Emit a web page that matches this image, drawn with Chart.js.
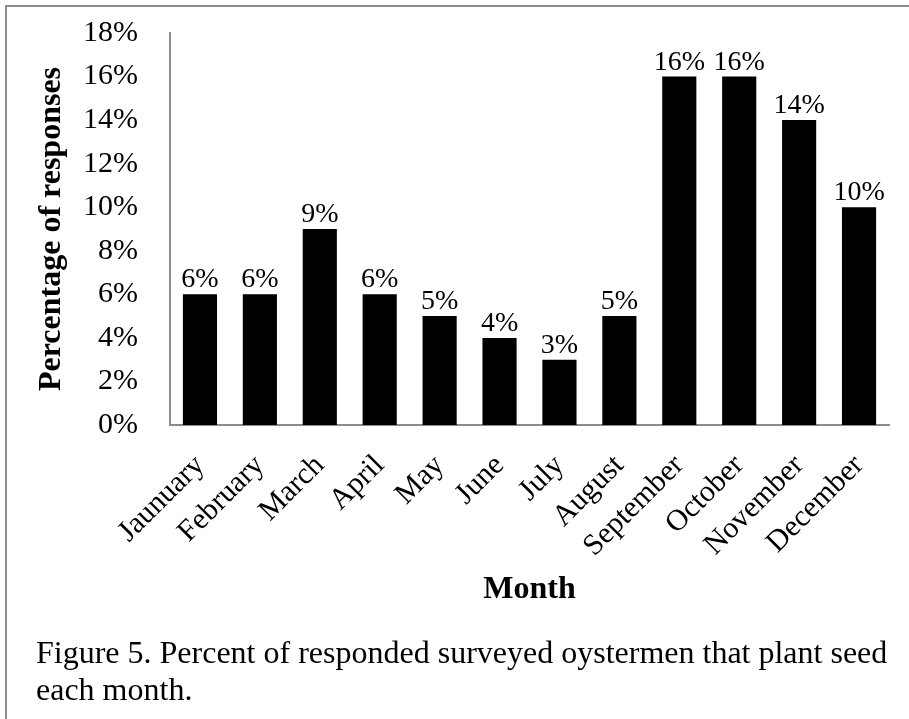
<!DOCTYPE html>
<html>
<head>
<meta charset="utf-8">
<script src="https://cdn.jsdelivr.net/npm/chart.js@4/dist/chart.umd.min.js"></script>
<style>
  html, body { margin: 0; padding: 0; background: #fff; }
  #page { position: relative; width: 909px; height: 719px; overflow: hidden; }
  #frame { position: absolute; left: 5px; top: 5px; right: -10px; bottom: -10px;
           border-left: 2px solid #8c8c8c; border-top: 2px solid #8c8c8c; }
  #chartBox { position: absolute; left: 0; top: 0; width: 909px; height: 620px; }
  #caption { position: absolute; left: 36px; top: 634px; white-space: nowrap;
             font-family: "Liberation Serif", "Times New Roman", serif;
             font-size: 32px; line-height: 36.5px; color: #000; }
</style>
</head>
<body>
<div id="page">
  <div id="chartBox"><canvas id="chart"></canvas></div>
  <div id="frame"></div>
  <div id="caption">Figure 5. Percent of responded surveyed oystermen that plant seed<br>each month.</div>
</div>
<script>
// Survey results: share of oystermen planting seed in each month (%)
const months = ['Jaunuary', 'February', 'March', 'April', 'May', 'June', 'July',
                'August', 'September', 'October', 'November', 'December'];
const percentResponses = [6, 6, 9, 6, 5, 4, 3, 5, 16, 16, 14, 10];
const yTicks = { min: 0, max: 18, step: 2 };

const serif = '"Liberation Serif", "Times New Roman", serif';

// Writes each bar's value above it
const valueLabels = {
  id: 'valueLabels',
  afterDatasetsDraw(chart) {
    const ctx = chart.ctx;
    const meta = chart.getDatasetMeta(0);
    const values = chart.data.datasets[0].data;
    ctx.save();
    ctx.font = '28px ' + serif;
    ctx.fillStyle = '#000';
    ctx.textAlign = 'center';
    ctx.textBaseline = 'alphabetic';
    meta.data.forEach((bar, i) => {
      ctx.fillText(values[i] + '%', bar.x, bar.y - 7);
    });
    ctx.restore();
  }
};

new Chart(document.getElementById('chart'), {
  type: 'bar',
  data: {
    labels: months,
    datasets: [{
      data: percentResponses,
      backgroundColor: '#000',
      borderWidth: 0,
      categoryPercentage: 1.0,
      barPercentage: 0.57
    }]
  },
  options: {
    responsive: true,
    maintainAspectRatio: false,
    animation: false,
    devicePixelRatio: 1,
    layout: { padding: { left: 30, top: 33, right: 20, bottom: 11 } },
    plugins: { legend: { display: false }, tooltip: { enabled: false } },
    scales: {
      x: {
        grid: { display: false, drawTicks: false },
        border: { display: true, color: '#8c8c8c', width: 2 },
        ticks: {
          color: '#000',
          font: { family: serif, size: 30 },
          maxRotation: 45, minRotation: 45,
          autoSkip: false,
          padding: 23
        },
        title: {
          display: true, text: 'Month', color: '#000',
          font: { family: serif, size: 32, weight: 'bold' },
          padding: 0
        },
        afterFit(scale) { scale.height = 184; }
      },
      y: {
        min: yTicks.min, max: yTicks.max,
        grid: { display: false, drawTicks: false },
        border: { display: true, color: '#8c8c8c', width: 2 },
        ticks: {
          stepSize: yTicks.step,
          color: '#000',
          font: { family: serif, size: 30 },
          padding: 32,
          callback: v => v + '%'
        },
        title: {
          display: true, text: 'Percentage of responses', color: '#000',
          font: { family: serif, size: 32, weight: 'bold' },
          padding: 3
        },
        afterFit(scale) {
          scale.width = 140;
          // the end labels may overhang the plot area; don't reserve room for them
          scale.paddingTop = 0;
          scale.paddingBottom = 0;
        }
      }
    }
  },
  plugins: [valueLabels]
});
</script>
</body>
</html>
